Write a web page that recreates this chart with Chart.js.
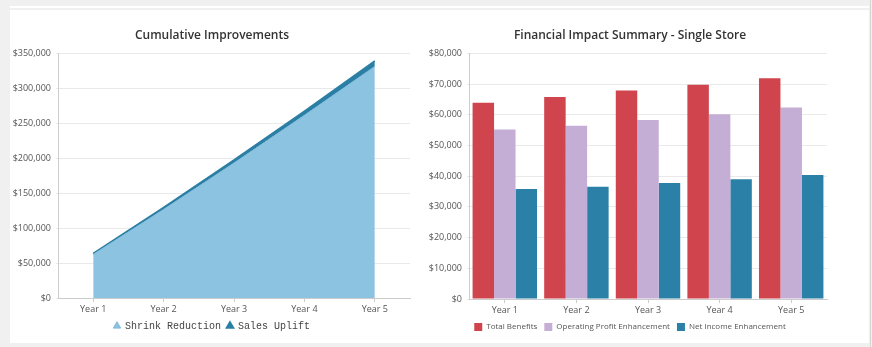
<!DOCTYPE html>
<html><head><meta charset="utf-8">
<script src="https://cdn.jsdelivr.net/npm/chart.js@4"></script>
<style>
html,body{margin:0;padding:0;background:#f0f0f0;width:872px;height:347px;overflow:hidden}
#band{position:absolute;left:10px;top:6px;width:859px;height:2px;background:#fff}
#panel{position:absolute;left:10px;top:10px;width:859px;height:333px;background:#fff}
#vline{position:absolute;left:870px;top:0;width:1px;height:347px;background:#d6d6d6}
.c{position:absolute;top:10px;height:333px}
#c1{left:10px;width:404px}
#c2{left:414px;width:432px}
</style></head>
<body>
<div id="band"></div><div id="panel"></div><div id="vline"></div>
<div class="c" id="c1"><canvas id="a"></canvas></div>
<div class="c" id="c2"><canvas id="b"></canvas></div>
<script>
const years = ["Year 1","Year 2","Year 3","Year 4","Year 5"];
const shrinkReduction = [62400, 126700, 193100, 261400, 331300];
const salesUplift = [1500, 3000, 4500, 6000, 8000];
const totalBenefits = [63900, 65800, 67900, 69800, 71900];
const operatingProfit = [55200, 56400, 58300, 60200, 62400];
const netIncome = [35800, 36600, 37800, 39000, 40400];

Chart.defaults.font.family = "'Open Sans', sans-serif";
Chart.defaults.color = "#555";
Chart.defaults.animation = false;
const money = v => "$" + Number(v).toLocaleString("en-US");
const spacer = w => ({position: "right", display: true, grid: {display: false}, border: {display: false}, ticks: {display: false}, afterFit: s => { s.width = w; }});

new Chart(document.getElementById("a"), {
  type: "line",
  data: {labels: years, datasets: [
    {label: "Shrink Reduction", data: shrinkReduction, fill: "origin", backgroundColor: "#8cc3e1", borderColor: "#7fb9d9", borderWidth: 1, pointRadius: 0, pointStyle: "triangle", tension: 0},
    {label: "Sales Uplift", data: salesUplift, fill: "-1", backgroundColor: "#2b7fa4", borderColor: "#2b7fa4", borderWidth: 1.5, pointRadius: 0, pointStyle: "triangle", tension: 0}
  ]},
  options: {
    responsive: true, maintainAspectRatio: false,
    layout: {padding: {left: 0, right: 0, top: 0, bottom: 2}},
    plugins: {
      title: {display: true, text: "Cumulative Improvements", color: "#333", font: {size: 12, weight: "600"}, padding: {top: 18, bottom: 11}},
      legend: {position: "bottom", labels: {usePointStyle: true, boxWidth: 6, boxHeight: 6, padding: 6, color: "#444", font: {family: "'Liberation Mono', monospace", size: 10}}},
      tooltip: {enabled: false}
    },
    scales: {
      x: {offset: true, grid: {display: true, drawOnChartArea: false, offset: false, tickLength: 4, color: "#ccc"}, border: {color: "#ccc"}, ticks: {font: {size: 9}, padding: 2}, afterFit: s => { s.height = 17; }},
      y: {stacked: true, min: 0, max: 350000, grid: {color: "#e9e9e9", tickLength: 2}, border: {color: "#ccc"}, ticks: {stepSize: 50000, callback: money, font: {size: 9}, padding: 5}, afterFit: s => { s.width = 48; }},
      pad: spacer(4)
    }
  }
});

new Chart(document.getElementById("b"), {
  type: "bar",
  data: {labels: years, datasets: [
    {label: "Total Benefits", data: totalBenefits, backgroundColor: "#d0454d"},
    {label: "Operating Profit Enhancement", data: operatingProfit, backgroundColor: "#c5aed6"},
    {label: "Net Income Enhancement", data: netIncome, backgroundColor: "#2a80a6"}
  ]},
  options: {
    responsive: true, maintainAspectRatio: false,
    layout: {padding: {left: 0, right: 0, top: 0, bottom: 2}},
    datasets: {bar: {categoryPercentage: 0.9, barPercentage: 1.0}},
    plugins: {
      title: {display: true, text: "Financial Impact Summary - Single Store", color: "#333", font: {size: 12, weight: "600"}, padding: {top: 18, bottom: 11}},
      legend: {position: "bottom", labels: {boxWidth: 8, boxHeight: 8, padding: 7, color: "#555", font: {size: 8}}},
      tooltip: {enabled: false}
    },
    scales: {
      x: {grid: {display: true, drawOnChartArea: false, offset: false, tickLength: 4, color: "#ccc"}, border: {color: "#ccc"}, ticks: {font: {size: 9}, padding: 2}, afterFit: s => { s.height = 17; }},
      y: {min: 0, max: 80000, grid: {color: "#e9e9e9", tickLength: 2}, border: {color: "#ccc"}, ticks: {stepSize: 10000, callback: money, font: {size: 9}, padding: 5}, afterFit: s => { s.width = 55; }},
      pad: spacer(19)
    }
  }
});
</script>
</body></html>
